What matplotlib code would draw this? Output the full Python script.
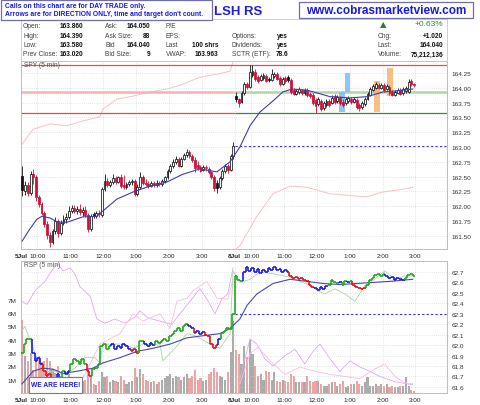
import numpy as np
import matplotlib.pyplot as plt
from matplotlib.patches import Rectangle
from matplotlib.collections import LineCollection

plt.rcParams['font.family'] = ['Liberation Sans', 'DejaVu Sans']

# SPY 5-min candles: 5 Jul = bars 0-77, 8 Jul = bars 78-143
spy_open = [162.51, 162.26, 162.36, 162.22, 162.54, 162.49, 162.16, 162.04, 161.89, 161.70,
            161.51, 161.40, 161.58, 161.75, 161.55, 161.72, 161.78, 161.82, 161.92, 161.97,
            161.92, 161.95, 161.90, 161.94, 161.85, 161.62, 161.86, 161.83, 161.88, 161.85,
            162.29, 162.43, 162.36, 162.41, 162.48, 162.41, 162.49, 162.35, 162.32, 162.38,
            162.41, 162.43, 162.21, 162.32, 162.49, 162.40, 162.37, 162.34, 162.39, 162.36,
            162.39, 162.37, 162.43, 162.49, 162.59, 162.68, 162.75, 162.80, 162.68, 162.80,
            162.86, 162.92, 162.85, 162.78, 162.70, 162.66, 162.62, 162.64, 162.63, 162.58,
            162.49, 162.40, 162.33, 162.48, 162.59, 162.68, 162.62, 162.85,
            163.86, 163.81, 163.76, 163.91, 164.06, 164.01, 164.22, 164.27, 164.18, 164.13,
            164.17, 164.20, 164.15, 164.13, 164.20, 164.23, 164.17, 164.06, 164.17, 164.18,
            164.13, 163.96, 163.90, 163.93, 163.96, 163.91, 163.96, 163.90, 163.88, 163.79,
            163.73, 163.78, 163.66, 163.71, 163.78, 163.74, 163.86, 163.78, 163.83, 163.76,
            163.74, 163.78, 163.81, 163.76, 163.79, 163.71, 163.68, 163.73, 163.81, 163.88,
            163.96, 164.00, 164.05, 164.00, 164.05, 163.98, 164.01, 163.93, 163.88, 163.91,
            163.96, 163.91, 163.95, 163.93, 164.12, 164.07]
spy_high = [162.68, 162.43, 162.41, 162.59, 162.63, 162.53, 162.19, 162.07, 161.92, 161.75,
            161.56, 161.62, 161.82, 161.78, 161.77, 161.85, 161.89, 162.00, 162.02, 162.02,
            162.00, 162.04, 161.99, 162.00, 161.89, 161.87, 161.90, 161.92, 161.94, 162.32,
            162.54, 162.48, 162.44, 162.54, 162.51, 162.51, 162.54, 162.53, 162.41, 162.44,
            162.46, 162.46, 162.38, 162.58, 162.53, 162.46, 162.43, 162.43, 162.43, 162.44,
            162.43, 162.46, 162.51, 162.63, 162.71, 162.80, 162.85, 162.83, 162.83, 162.90,
            162.97, 162.95, 162.88, 162.83, 162.76, 162.70, 162.70, 162.69, 162.66, 162.60,
            162.52, 162.45, 162.51, 162.63, 162.71, 162.71, 162.88, 163.08,
            163.93, 163.83, 163.95, 164.10, 164.10, 164.39, 164.38, 164.32, 164.22, 164.23,
            164.25, 164.23, 164.18, 164.32, 164.27, 164.27, 164.20, 164.18, 164.20, 164.22,
            164.17, 164.00, 163.98, 164.01, 163.98, 164.00, 164.00, 163.93, 163.91, 163.83,
            163.85, 163.81, 163.78, 163.81, 163.81, 163.88, 163.90, 163.88, 163.86, 163.81,
            163.85, 163.86, 163.85, 163.85, 163.83, 163.74, 163.78, 163.85, 163.93, 164.01,
            164.06, 164.10, 164.08, 164.08, 164.08, 164.06, 164.05, 163.96, 163.96, 164.00,
            164.00, 164.01, 164.03, 164.15, 164.15, 164.08]
spy_low = [162.17, 162.19, 162.17, 162.19, 162.38, 162.09, 161.99, 161.85, 161.65, 161.45,
           161.31, 161.36, 161.53, 161.48, 161.51, 161.68, 161.72, 161.78, 161.89, 161.89,
           161.87, 161.85, 161.83, 161.82, 161.56, 161.58, 161.80, 161.80, 161.82, 161.82,
           162.26, 162.32, 162.32, 162.37, 162.37, 162.39, 162.31, 162.29, 162.29, 162.34,
           162.36, 162.17, 162.17, 162.29, 162.36, 162.34, 162.31, 162.32, 162.32, 162.32,
           162.34, 162.34, 162.39, 162.46, 162.56, 162.64, 162.71, 162.66, 162.66, 162.78,
           162.83, 162.82, 162.75, 162.58, 162.61, 162.58, 162.59, 162.60, 162.55, 162.46,
           162.25, 162.22, 162.29, 162.45, 162.56, 162.56, 162.59, 162.80,
           163.76, 163.68, 163.74, 163.88, 163.98, 164.00, 164.18, 164.12, 164.08, 164.12,
           164.13, 164.10, 164.10, 164.12, 164.17, 164.13, 164.03, 164.05, 164.08, 164.10,
           163.90, 163.88, 163.88, 163.90, 163.88, 163.88, 163.85, 163.83, 163.71, 163.58,
           163.69, 163.61, 163.62, 163.68, 163.68, 163.73, 163.73, 163.74, 163.71, 163.68,
           163.71, 163.74, 163.73, 163.74, 163.64, 163.61, 163.64, 163.69, 163.79, 163.86,
           163.95, 163.98, 163.98, 163.98, 163.93, 163.96, 163.88, 163.86, 163.86, 163.90,
           163.88, 163.88, 163.91, 163.91, 164.03, 164.01]
spy_close = [162.27, 162.36, 162.22, 162.54, 162.49, 162.16, 162.04, 161.89, 161.70, 161.51,
             161.40, 161.58, 161.75, 161.55, 161.72, 161.78, 161.82, 161.92, 161.97, 161.92,
             161.95, 161.90, 161.94, 161.85, 161.62, 161.83, 161.83, 161.88, 161.87, 162.29,
             162.43, 162.36, 162.41, 162.48, 162.41, 162.49, 162.34, 162.32, 162.38, 162.41,
             162.43, 162.21, 162.32, 162.49, 162.39, 162.37, 162.34, 162.39, 162.36, 162.39,
             162.37, 162.43, 162.49, 162.59, 162.68, 162.75, 162.80, 162.68, 162.80, 162.86,
             162.92, 162.85, 162.78, 162.65, 162.64, 162.60, 162.67, 162.66, 162.58, 162.49,
             162.30, 162.30, 162.48, 162.59, 162.68, 162.61, 162.85, 163.02,
             163.81, 163.74, 163.91, 164.06, 164.01, 164.27, 164.28, 164.15, 164.12, 164.20,
             164.22, 164.12, 164.13, 164.23, 164.23, 164.15, 164.06, 164.15, 164.12, 164.13,
             163.93, 163.90, 163.95, 163.98, 163.91, 163.96, 163.88, 163.86, 163.74, 163.69,
             163.81, 163.64, 163.74, 163.78, 163.71, 163.83, 163.76, 163.85, 163.74, 163.71,
             163.81, 163.83, 163.76, 163.81, 163.68, 163.66, 163.74, 163.81, 163.90, 163.98,
             164.03, 164.06, 164.00, 164.05, 163.96, 164.03, 163.91, 163.88, 163.93, 163.96,
             163.90, 163.98, 164.00, 164.10, 164.06, 164.04]

# volume in millions
volume = [5.5, 2.8, 2.4, 3.0, 1.7, 2.8, 2.8, 2.3, 2.4, 2.6,
          2.4, 1.8, 1.5, 2.0, 1.3, 1.2, 1.0, 1.4, 0.9, 1.1,
          0.8, 1.2, 0.9, 1.0, 1.9, 1.2, 0.7, 0.6, 0.9, 1.6,
          1.2, 1.3, 0.8, 1.0, 0.9, 0.8, 1.3, 1.0, 0.7, 0.8,
          0.9, 1.9, 1.2, 1.8, 1.4, 1.0, 0.9, 0.8, 0.9, 0.7,
          0.8, 1.0, 1.1, 1.3, 1.4, 1.1, 1.3, 1.2, 1.0, 1.2,
          1.4, 1.1, 1.3, 1.7, 1.0, 1.1, 0.9, 1.0, 1.4, 1.6,
          1.9, 1.6, 1.3, 1.2, 1.0, 1.6, 3.1, 5.4,
          3.2, 2.9, 2.2, 3.5, 2.7, 4.0, 2.9, 2.0, 1.3, 1.4,
          1.0, 1.65, 1.55, 1.0, 1.55, 0.9, 0.8, 1.0, 0.9, 0.8,
          1.4, 1.3, 0.8, 0.8, 0.8, 0.8, 1.3, 0.9, 0.8, 0.9,
          0.9, 0.7, 0.5, 0.55, 0.7, 0.8, 0.8, 0.55, 0.7, 0.9,
          0.45, 0.55, 0.7, 0.7, 0.9, 0.7, 0.55, 0.8, 1.2, 0.55,
          0.55, 0.7, 0.55, 0.7, 0.55, 0.7, 0.45, 0.55, 0.43, 0.45,
          0.55, 0.55, 1.2, 0.55, 0.2, 0.15]

# RSP 5-min closes and the trend colour of each step
rsp_close = [61.92, 62.01, 62.06, 62.06, 61.92, 61.85, 61.88, 61.82, 61.75, 61.70,
             61.72, 61.68, 61.66, 61.72, 61.69, 61.75, 61.72, 61.75, 61.82, 61.87,
             61.85, 61.82, 61.87, 61.82, 61.75, 61.70, 61.77, 61.78, 61.82, 61.99,
             62.01, 61.96, 61.99, 62.01, 61.96, 61.99, 61.97, 62.01, 61.99, 61.96,
             61.94, 61.96, 61.92, 62.04, 62.04, 62.01, 61.99, 62.02, 62.00, 62.04,
             62.02, 62.04, 62.06, 62.04, 62.09, 62.11, 62.14, 62.16, 62.14, 62.18,
             62.20, 62.18, 62.16, 62.12, 62.14, 62.11, 62.13, 62.10, 62.09, 62.01,
             61.97, 62.00, 62.06, 62.12, 62.14, 62.16, 62.15, 62.30,
             62.66, 62.62, 62.61, 62.70, 62.75, 62.71, 62.74, 62.70, 62.73, 62.69,
             62.72, 62.70, 62.74, 62.72, 62.75, 62.72, 62.73, 62.70, 62.72, 62.70,
             62.66, 62.64, 62.65, 62.63, 62.64, 62.62, 62.61, 62.58, 62.56, 62.55,
             62.53, 62.56, 62.54, 62.57, 62.58, 62.62, 62.60, 62.59, 62.60, 62.58,
             62.61, 62.60, 62.61, 62.58, 62.56, 62.55, 62.54, 62.55, 62.58, 62.62,
             62.64, 62.67, 62.68, 62.66, 62.68, 62.66, 62.64, 62.65, 62.62, 62.64,
             62.63, 62.62, 62.64, 62.67, 62.68, 62.66]
rsp_tone = ("gggg" "bbbb" "rrrrr" "bb" "g" "bb" "gggggg" "rr" "ggggggg" "bbbbbbb"
            "rrr" "gg" "bbbb" "gggggggggggg" "bb" "r" "bbb" "rrrrr" "b" "ggggg"
            "ggg" "bbbbbbbbbbbbbbbbb" "rrrrrrrrr" "bbbbb" "gggg" "b" "gg" "b" "g"
            "rrrrr" "ggggggg" "bbbbbbb" "gggg")

# moving averages (bar, value)
spy_ma_bar = [-0.1, 2.8, 5.3, 7.2, 10.1, 13, 16.3, 22.1, 27.2, 29.4, 34.5, 40.4, 46.6, 52.8,
              58.6, 64.8, 71, 75.8, 79.4, 83.1, 86.7, 91.5, 95.1, 98.4, 103.9, 108.6, 112.3,
              119.6, 125.8, 131.6, 136.7, 142.5]
spy_ma = [161.41, 161.62, 161.78, 161.83, 161.80, 161.73, 161.73, 161.82, 161.83, 161.92,
          162.12, 162.24, 162.34, 162.41, 162.54, 162.63, 162.58, 162.75, 163.00, 163.36,
          163.59, 163.78, 163.93, 163.98, 163.96, 163.90, 163.85, 163.83, 163.85, 163.93,
          163.95, 163.98]
rsp_ma_bar = [-0.1, 3.9, 7.5, 11.2, 14.8, 19.9, 25.8, 29.4, 35.6, 41.8, 47.7, 53.9, 60.1,
              65.9, 72.1, 75.8, 79.4, 82, 85.6, 91.5, 97.7, 103.9, 109.7, 115.9, 122.1,
              127.9, 134.2, 142.5]
rsp_ma = [61.63, 61.75, 61.78, 61.77, 61.73, 61.75, 61.78, 61.83, 61.88, 61.94, 61.97,
          62.01, 62.07, 62.09, 62.11, 62.16, 62.25, 62.38, 62.49, 62.59, 62.63, 62.61,
          62.59, 62.58, 62.59, 62.60, 62.61, 62.63]

# faint overlay lines (NaN = day break)
rel_bar = [-0.1, 3.9, 10.1, 16.3, 22.1, 28.3, 29.4, 34.5, 40.4, 46.6, 52.8, 58.6, 64.8, 71,
           75.8, 76.9, np.nan, 78.0, 79.4, 85.6, 91.5, 97.7, 103.9, 112.3, 122.1, 125.8,
           131.6, 136.7, 142.5]
rel_val = [163.05, 163.30, 163.39, 163.36, 163.44, 163.51, 163.64, 163.81, 163.86, 163.93,
           163.98, 164.06, 164.18, 164.23, 164.28, 164.44, np.nan, 161.28, 161.33, 161.83,
           162.21, 162.34, 162.32, 162.21, 162.17, 162.16, 162.24, 162.27, 162.32]
spy_ovl_bar = [-0.1, 0.9, 5.7, 8.2, 11.9, 15.5, 19.2, 22.8, 26.5, 28.3, 29.4, 37.4, 40.4,
               44, 50.2, 51.3, 55.7, 60.1, 63, 68.5, 72.1, 75.8, 76.9, 79.4, 83.1, 86.7,
               92.2, 97.7, 99.5, 105, 108.6, 110.4, 114.1, 117.7, 121.4, 125, 128.6, 132.3,
               135.9, 139.5, 142.5]
spy_ovl = [62.14, 62.18, 61.85, 61.75, 61.75, 61.72, 61.78, 61.88, 61.88, 61.83, 62.01,
           62.01, 61.97, 62.01, 62.01, 61.85, 61.97, 62.11, 62.09, 62.01, 61.97, 62.11,
           62.71, 62.60, 62.63, 62.70, 62.68, 62.65, 62.63, 62.57, 62.51, 62.49, 62.54,
           62.49, 62.42, 62.57, 62.63, 62.71, 62.63, 62.66, 62.66]
lav_bar = [-0.1, 1.7, 4.6, 8.2, 11.2, 13.0, 14.8, 17.4, 19.2, 21.0, 24.7, 27.2, 30.1, 33.8,
           37.4, 41.1, 42.9, 45.8, 50.2, 54.6, 57.5, 61.2, 64.8, 67.4, 70.3, 72.8, 75.0,
           76.9, np.nan, 79.4, 83.1, 85.6, 88.5, 91.5, 95.9, 99.5, 103.1, 106.1, 108.6,
           112.3, 115.9, 119.6, 123.2, 126.9, 130.5, 136.0, 142.5]
lav_val = [62.42, 62.39, 62.52, 62.61, 62.73, 62.78, 62.71, 62.74, 62.68, 62.56, 62.47,
           62.25, 62.21, 62.25, 62.21, 62.27, 62.33, 62.26, 62.23, 62.20, 62.30, 62.42,
           62.54, 62.44, 62.30, 62.44, 62.49, 62.74, np.nan, 61.68, 62.06, 62.01, 61.87,
           61.80, 61.90, 61.96, 61.82, 61.94, 62.01, 61.87, 61.75, 61.85, 61.79, 61.75,
           61.70, 61.65, 61.62]
pink_bar = [21.0, 28.3, 35.6, 40.4, 44.0, 50.2, 53.9, 56.4, 60.1, 62.3, 67.4, 71.0, 75.0,
            76.9, np.nan, 79.4, 83.1, 86.0, 90.4, 95.9, 101.3, 106.8, 112.3, 117.7, 123.2,
            128.6, 132.3, 136.0, 139.5, 142.5]
pink_val = [61.63, 62.01, 62.11, 62.30, 62.23, 62.30, 62.16, 62.42, 62.45, 62.52, 62.61,
            62.45, 62.44, 62.63, np.nan, 61.63, 61.92, 61.98, 61.85, 61.72, 61.79, 61.75,
            61.72, 61.70, 61.68, 61.77, 61.82, 61.70, 61.64, 61.63]

# levels and signal boxes (bar from, bar to, low, high, colour)
day_high, vwap_level, day_low, prev_close = 164.39, 163.93, 163.58, 163.02
rsp_prev_close = 62.30
signal_boxes = [(115.5, 117.7, 163.59, 163.93, '#7cbcf0'),
                (117.7, 119.7, 163.93, 164.25, '#7cbcf0'),
                (128.3, 130.5, 163.59, 164.12, '#f6b56c'),
                (133.2, 135.4, 163.86, 164.33, '#f6b56c')]

tick_pos = [-0.5, 5.5, 17.5, 29.5, 41.5, 53.5, 65.5, 77.5, 83.5, 95.5, 107.5, 119.5, 131.5, 143.5]
tick_lab = ['5Jul', '10:00', '11:00', '12:00', '1:00', '2:00', '3:00',
            '8Jul', '10:00', '11:00', '12:00', '1:00', '2:00', '3:00']

W, H = 480, 406
fig = plt.figure(figsize=(W / 100, H / 100), dpi=100)


def fx(x):
    return x / W


def fy(y):
    return 1 - y / H


grid_kw = dict(color='#cfcfcf', ls=(0, (1, 2)), lw=0.5)


def style_axes(a):
    for s in a.spines.values():
        s.set_color('#b4b4b4')
        s.set_linewidth(0.6)
    a.set_xlim(-0.5, 155)
    a.set_xticks(tick_pos)
    a.set_xticklabels(tick_lab)
    a.tick_params(axis='x', length=0, labelsize=4.6, pad=3, labelcolor='#222')
    for t in a.get_xticklabels():
        if 'Jul' in t.get_text():
            t.set_fontweight('bold')
    for p in tick_pos:
        a.axvline(p, zorder=0.5, **grid_kw)


# ---------------- price panel ----------------
ax = fig.add_axes([fx(21), fy(250), 426 / W, 188 / H])
style_axes(ax)
ax.set_ylim(161.277, 164.453)
ax.set_yticks(np.arange(161.5, 164.26, 0.25))
ax.yaxis.set_major_formatter(plt.FormatStrFormatter('%.2f'))
ax.tick_params(axis='y', length=0, labelsize=4.6, pad=3, labelcolor='#333',
               left=False, right=True, labelleft=False, labelright=True)
ax.grid(axis='y', **grid_kw)
ax.set_axisbelow(True)

ax.plot(rel_bar, rel_val, color='#f5c4c4', lw=0.7, zorder=1)

ax.axhline(day_high, color='#ef4a4a', lw=0.9, zorder=2)
ax.hlines(vwap_level, -0.5, 77.5, color='#f4b2b2', lw=1.8, zorder=2)
ax.hlines(vwap_level, 77.5, 155, color='#acd9a4', lw=1.8, zorder=2)
ax.hlines(day_low, -0.5, 77.5, color='#e84545', lw=0.9, zorder=2)
ax.hlines(day_low, 77.5, 155, color='#2f8f2f', lw=0.9, zorder=2)
ax.hlines(prev_close, 77.5, 155, color='#3535ee', lw=0.8, ls=(0, (2, 2)), zorder=2)

for b0, b1, lo, hi, col in signal_boxes:
    ax.add_patch(Rectangle((b0, lo), b1 - b0, hi - lo, facecolor=col, edgecolor='none',
                           alpha=0.85, zorder=3))

ax.plot(spy_ma_bar, spy_ma, color='#3c3cb8', lw=0.8, zorder=6)

for i in range(len(spy_close)):
    o, h, l, c = spy_open[i], spy_high[i], spy_low[i], spy_close[i]
    prev = spy_close[i - 1] if i else c
    col = '#111111' if c >= prev else '#cf1038'
    ax.vlines(i, l, h, color=col, lw=0.6, zorder=4)
    face = 'white' if c >= o else col
    ax.add_patch(Rectangle((i - 0.34, min(o, c)), 0.68, max(abs(c - o), 0.006),
                           facecolor=face, edgecolor=col, lw=0.55, zorder=5))

ax.text(0.006, 0.979, 'SPY (5 min)', transform=ax.transAxes, fontsize=4.8,
        color='#555555', va='center', ha='left', zorder=7)

# ---------------- RSP / volume panel ----------------
axv = fig.add_axes([fx(21), fy(394), 426 / W, 132 / H])
style_axes(axv)
axv.set_ylim(0, 9.9)
axv.set_yticks(range(1, 8))
axv.set_yticklabels(['%dM' % v for v in range(1, 8)])
axv.tick_params(axis='y', length=0, labelsize=4.6, pad=3, labelcolor='#333')
vol_cols = ['#ababab' if c >= o else '#eaa4a4' for o, c in zip(spy_open, spy_close)]
axv.bar(range(len(volume)), volume, width=0.78, color=vol_cols, edgecolor='none', zorder=1)

axr = axv.twinx()
axr.set_xlim(-0.5, 155)
axr.set_ylim(61.542, 62.805)
axr.set_yticks(np.arange(61.6, 62.71, 0.1))
axr.yaxis.set_major_formatter(plt.FormatStrFormatter('%.1f'))
axr.tick_params(axis='y', length=0, labelsize=4.6, pad=3, labelcolor='#333')
axr.grid(axis='y', **grid_kw)
for s in axr.spines.values():
    s.set_visible(False)

axr.plot(lav_bar, lav_val, color='#ddaaf0', lw=0.6)
axr.plot(pink_bar, pink_val, color='#f3c0de', lw=0.6)
axr.plot(spy_ovl_bar, spy_ovl, color='#acd4a4', lw=0.6)
axr.hlines(rsp_prev_close, 77.5, 155, color='#3535ee', lw=0.8, ls=(0, (2, 2)))
axr.plot(rsp_ma_bar, rsp_ma, color='#4848b0', lw=0.8)

tone_col = {'g': '#1faa1f', 'b': '#1a1aef', 'r': '#ee1111'}
segs, cols = [], []
for i, v in enumerate(rsp_close):
    c = tone_col[rsp_tone[i]] if i < len(rsp_tone) else tone_col['b']
    if i:
        segs.append([(i - 0.5, rsp_close[i - 1]), (i - 0.5, v)])
        cols.append(c)
    segs.append([(i - 0.5, v), (i + 0.5, v)])
    cols.append(c)
axr.add_collection(LineCollection(segs, colors=cols, linewidths=1.2, capstyle='butt'))

axr.text(0.006, 0.97, 'RSP (5 min)', transform=axr.transAxes, fontsize=4.8,
         color='#555555', va='center', ha='left')

# ---------------- header ----------------
fig.add_artist(Rectangle((fx(21), fy(62)), 426 / W, 42 / H, transform=fig.transFigure,
                         fill=False, edgecolor='#c8c8c8', lw=0.6))

rows = [26, 36, 45.5, 55]
info = [
    (23, 83, ['Open:', 'High:', 'Low:', 'Prev Close:'], ['163.860', '164.390', '163.580', '163.020']),
    (105, 150, ['Ask:', 'Ask Size:', 'Bid', 'Bid Size:'], ['164.050', '88', '164.040', '9']),
    (166, 218, ['P/E', 'EPS:', 'Last', 'VWAP:'], ['', '', '100 shrs', '163.963']),
    (232, 288, ['', 'Options:', 'Dividends:', 'SCTR (ETF):'], ['', 'yes', 'yes', '78.6']),
    (378, 443, ['', 'Chg:', 'Last:', 'Volume:'], ['', '+1.020', '164.040', '75,212,136']),
]
for lx, vx, labs, vals in info:
    for y, lab, val in zip(rows, labs, vals):
        fig.text(fx(lx), fy(y), lab, fontsize=4.8, color='#404040', va='center', ha='left')
        fig.text(fx(vx), fy(y), val, fontsize=4.7, color='#111111', fontweight='bold',
                 va='center', ha='right')
fig.text(fx(380), fy(25), '\u25b2', fontsize=6, color='#2e7d32', va='center', ha='left',
         family=['DejaVu Sans'])
fig.text(fx(443), fy(25), '+0.63%', fontsize=6, color='#2e8b2e', va='center', ha='right')

fig.text(fx(214), fy(12), 'LSH RS', fontsize=9.5, color='#1f1fe0', fontweight='bold',
         va='center', ha='left')

fig.add_artist(Rectangle((fx(1), fy(21)), 211 / W, 20 / H, transform=fig.transFigure,
                         facecolor='white', edgecolor='#6f6fa8', lw=0.9, zorder=10))
fig.text(fx(5), fy(6.7), 'Calls on this chart are for DAY TRADE only.', fontsize=4.9,
         color='#1a1ae0', fontweight='bold', va='center', ha='left', zorder=11)
fig.text(fx(5), fy(15), "Arrows are for DIRECTION ONLY, time and target don't count.",
         fontsize=4.9, color='#1a1ae0', fontweight='bold', va='center', ha='left', zorder=11)

fig.add_artist(Rectangle((fx(299), fy(19)), 174 / W, 16 / H, transform=fig.transFigure,
                         facecolor='white', edgecolor='#6f6fa8', lw=0.9, zorder=10))
fig.text(fx(386), fy(11), 'www.cobrasmarketview.com', fontsize=8.5, color='#1a1ae6',
         fontweight='bold', va='center', ha='center', zorder=11)

fig.add_artist(Rectangle((fx(29), fy(394)), 53 / W, 16 / H, transform=fig.transFigure,
                         facecolor='white', edgecolor='#7a7a9a', lw=0.8, zorder=10))
fig.text(fx(55.5), fy(386), 'WE ARE HERE!', fontsize=4.8, color='#1a1ae0',
         fontweight='bold', va='center', ha='center', zorder=11)

fig.savefig('out.png', dpi=100)
